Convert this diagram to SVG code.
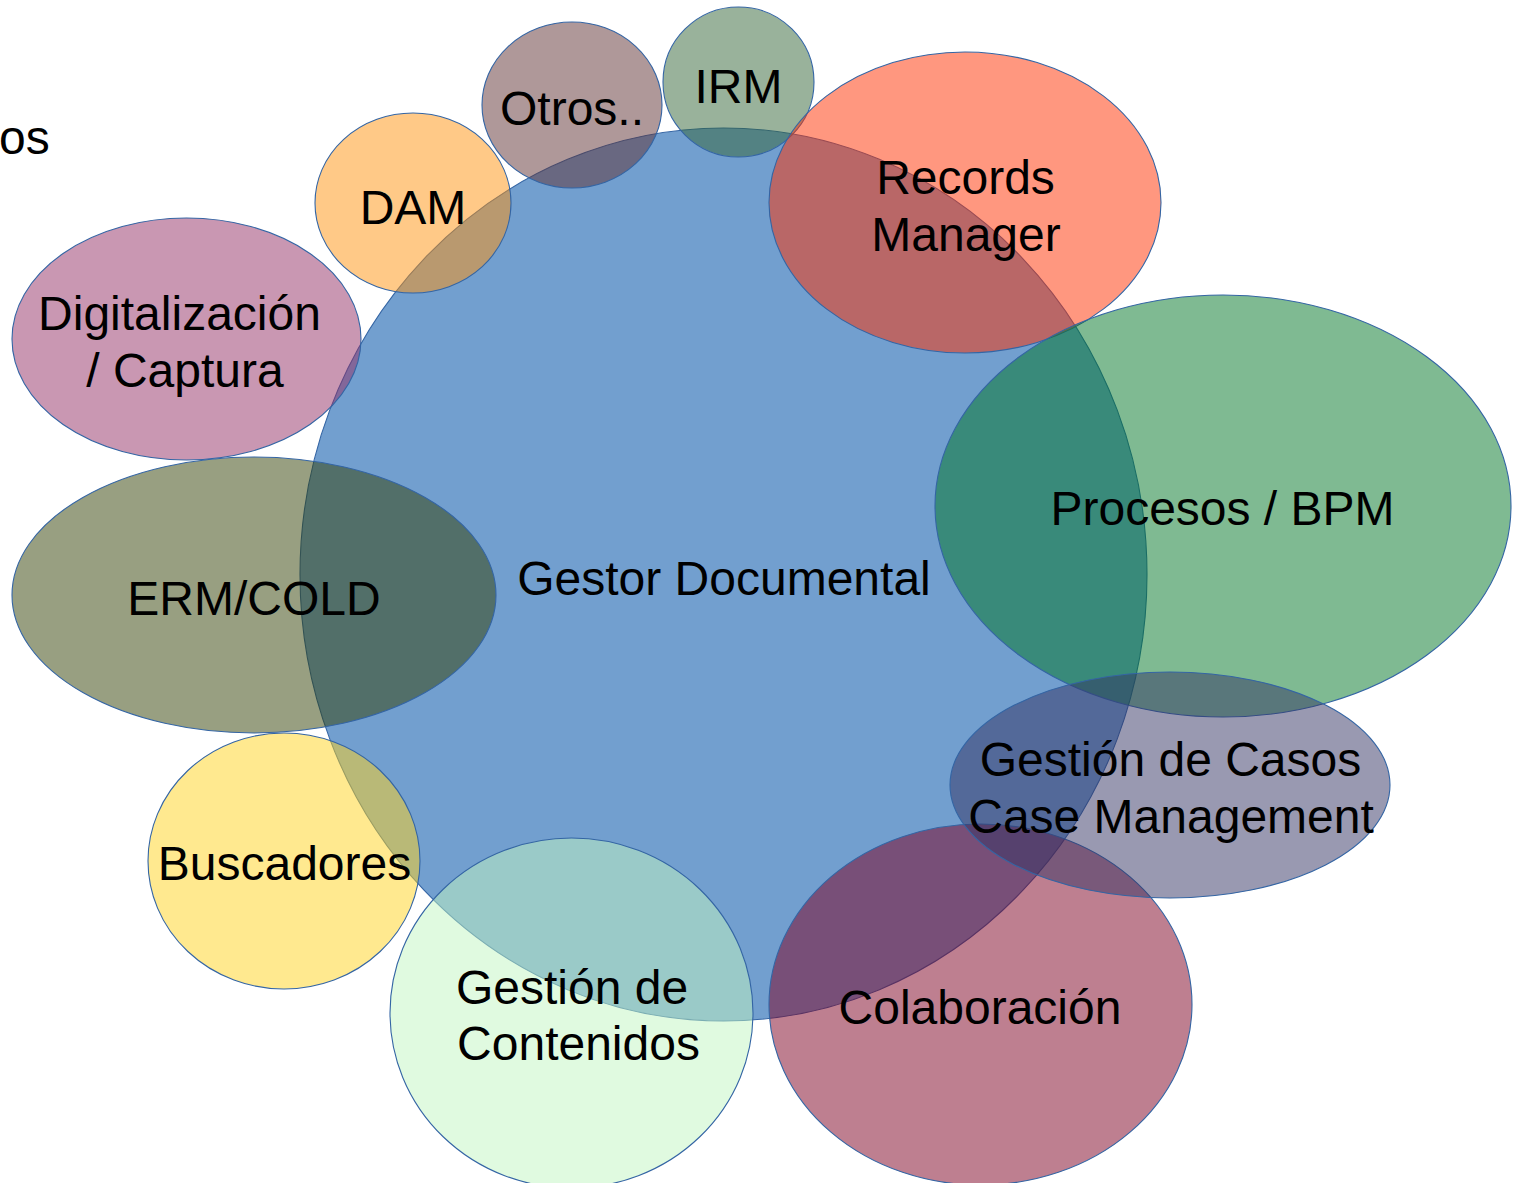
<svg xmlns="http://www.w3.org/2000/svg" width="1514" height="1183" viewBox="0 0 1514 1183">
<style>
  .shape { stroke: #3465A4; stroke-width: 1.1; }
  .half { fill-opacity: 0.5; }
  .lbl { font-family: "Liberation Sans", Arial, sans-serif; font-size: 48px; fill: #000000; text-anchor: middle; }
</style>
<rect width="1514" height="1183" fill="#FFFFFF"/>
<text class="lbl" x="-1" y="154" style="text-anchor:start">os</text>
<g id="gestor-documental">
  <ellipse class="shape" cx="723.5" cy="574.5" rx="423.5" ry="446.5" fill="#729FCF"/>
  <text class="lbl" x="724" y="594.5">Gestor Documental</text>
</g>
<g id="irm">
  <ellipse class="shape half" cx="738.5" cy="82" rx="75.5" ry="75" fill="#336537"/>
  <text class="lbl" x="738.5" y="103">IRM</text>
</g>
<g id="otros">
  <ellipse class="shape half" cx="572" cy="105" rx="90" ry="83" fill="#5F3133"/>
  <text class="lbl" x="572" y="125">Otros..</text>
</g>
<g id="dam">
  <ellipse class="shape half" cx="413" cy="203" rx="98" ry="90" fill="#FF930F"/>
  <text class="lbl" x="413" y="224">DAM</text>
</g>
<g id="records-manager">
  <ellipse class="shape half" cx="965" cy="202.5" rx="196" ry="150.5" fill="#FF2F00"/>
  <text class="lbl" x="965.5" y="194">Records</text>
  <text class="lbl" x="966" y="251">Manager</text>
</g>
<g id="digitalizacion">
  <ellipse class="shape half" cx="186.5" cy="339" rx="174.5" ry="121" fill="#932F65"/>
  <text class="lbl" x="179.5" y="330">Digitalización</text>
  <text class="lbl" x="185" y="387">/ Captura</text>
</g>
<g id="erm-cold">
  <ellipse class="shape half" cx="254" cy="595" rx="242" ry="138" fill="#314004"/>
  <text class="lbl" x="254" y="615">ERM/COLD</text>
</g>
<g id="buscadores">
  <ellipse class="shape half" cx="284" cy="861" rx="136" ry="128" fill="#FFD320"/>
  <text class="lbl" x="284.5" y="879.5">Buscadores</text>
</g>
<g id="gestion-contenidos">
  <ellipse class="shape half" cx="571.5" cy="1013" rx="181.5" ry="175" fill="#C1F5C1"/>
  <text class="lbl" x="572" y="1004">Gestión de</text>
  <text class="lbl" x="578.5" y="1060">Contenidos</text>
</g>
<g id="colaboracion">
  <ellipse class="shape half" cx="980.5" cy="1004.5" rx="211.5" ry="180.5" fill="#7E0021"/>
  <text class="lbl" x="980" y="1024">Colaboración</text>
</g>
<g id="procesos-bpm">
  <ellipse class="shape half" cx="1223" cy="506" rx="288" ry="211" fill="#007526"/>
  <text class="lbl" x="1222.5" y="525">Procesos / BPM</text>
</g>
<g id="gestion-casos">
  <ellipse class="shape half" cx="1170" cy="785" rx="220" ry="113" fill="#333363"/>
  <text class="lbl" x="1170.5" y="775.5">Gestión de Casos</text>
  <text class="lbl" x="1171" y="833">Case Management</text>
</g>
<g id="connectors"></g>
</svg>
